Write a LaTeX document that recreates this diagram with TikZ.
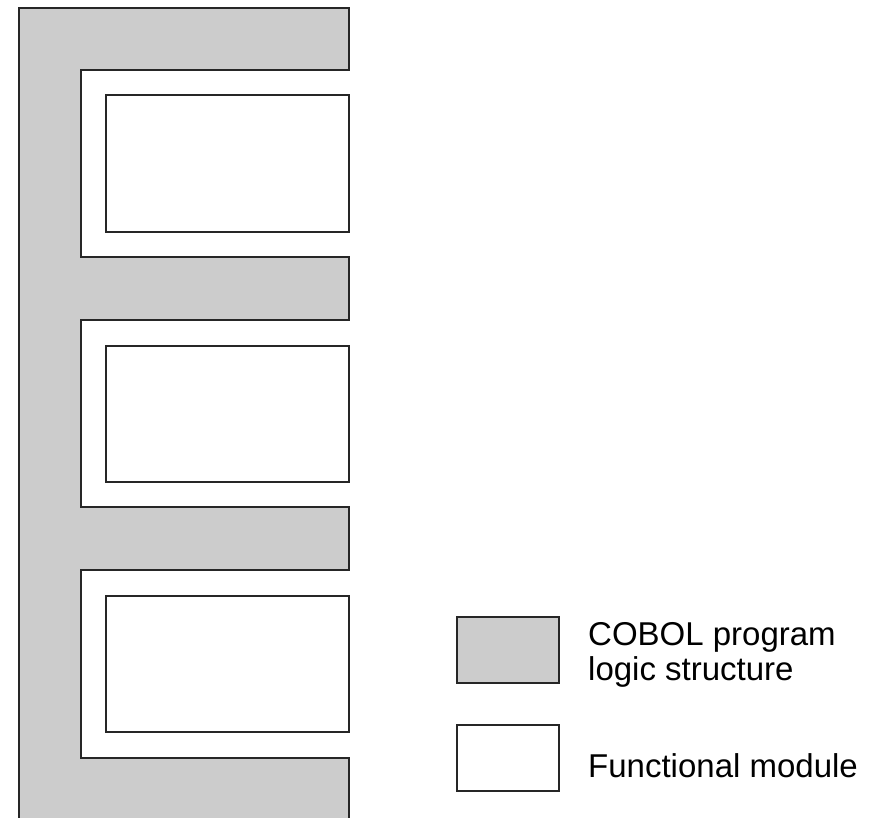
\documentclass[tikz,border=0pt]{standalone}
\usepackage{fontspec}
\setmainfont{Liberation Sans}
\definecolor{logicgray}{HTML}{CCCCCC}
\tikzset{
  outline/.style={line width=2.6pt, draw=black!85, line join=miter},
  modbox/.style={outline, fill=white, rectangle, inner sep=0pt, outer sep=0pt, anchor=north west},
  legbox/.style={outline, rectangle, inner sep=0pt, outer sep=0pt, anchor=north west,
                 minimum width=102pt, minimum height=66pt},
  legtext/.style={font=\fontsize{33}{39}\selectfont, anchor=base west, inner sep=0pt, align=left}
}
\begin{document}
\begin{tikzpicture}[x=1pt, y=-1pt]
\useasboundingbox (0,0) rectangle (876,818);
\clip (0,0) rectangle (876,818);
\fill[white] (0,0) rectangle (876,818);

% the COBOL logic structure: a spine with four arms
\fill[logicgray] (19,8) -- (349,8) -- (349,70) -- (81,70) -- (81,257) -- (349,257)
  -- (349,320) -- (81,320) -- (81,507) -- (349,507) -- (349,570) -- (81,570)
  -- (81,758) -- (349,758) -- (349,830) -- (19,830) -- cycle;
\draw[outline] (349,830) -- (349,758) -- (81,758) -- (81,570) -- (349,570)
  -- (349,507) -- (81,507) -- (81,320) -- (349,320) -- (349,257) -- (81,257)
  -- (81,70) -- (349,70) -- (349,8) -- (19,8) -- (19,830);

% functional modules held by the structure
\node[modbox, minimum width=243pt, minimum height=137pt] (m1) at (106,95) {};
\node[modbox, minimum width=243pt, minimum height=136pt] (m2) at (106,346) {};
\node[modbox, minimum width=243pt, minimum height=136pt] (m3) at (106,596) {};

% legend
\node[legbox, fill=logicgray] (lg) at (457,617) {};
\node[legbox, fill=white] (lw) at (457,725) {};
\node[legtext] (tg1) at (588,645) {COBOL program};
\node[legtext] (tg2) at (588,680) {logic structure};
\node[legtext] (tw) at (588,777) {Functional module};
\end{tikzpicture}
\end{document}
